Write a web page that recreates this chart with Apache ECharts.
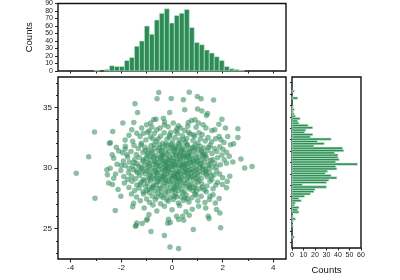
<!DOCTYPE html>
<html><head><meta charset="utf-8">
<script src="https://cdn.jsdelivr.net/npm/echarts@6/dist/echarts.min.js"></script>
<style>html,body{margin:0;padding:0;background:#fff}#c{width:400px;height:280px}</style>
</head><body><div id="c"></div>
<script>
// Top marginal histogram (x)
const xBinStart = -3.06, xBinWidth = 0.197;
const xCounts = [1,0,2,7,6,6,14,18,33,40,60,49,68,77,83,64,74,77,82,58,38,35,28,24,19,14,6,3,2,1];
// Right marginal histogram (y)
const yBinStart = 23.35, yBinWidth = 0.2;
const yCounts = [2,0,0,0,0,1,0,1,3,1,0,6,5,6,2,3,8,6,11,16,19,20,30,9,30,32,39,34,29,31,39,38,57,38,41,40,40,37,45,44,19,28,22,34,16,18,11,12,18,14,6,5,7,3,2,1,2,1,0,0,0,5,0,0,2];
// Tick values
const scatterXTicks = [-4,-2,0,2,4];
const scatterXMinor = [-3,-1,1,3];
const scatterYTicks = [25,30,35];
const scatterYMinor = [23,24,26,27,28,29,31,32,33,34,36,37];
const topHistXTicks = [-4,-3,-2,-1,0,1,2,3,4];
const rightHistYTicks = [23,24,25,26,27,28,29,30,31,32,33,34,35,36,37];
// Scatter points
const points = [
[-0.52,36.22],[0.68,36.25],[-0.59,35.7],[-0.03,35.73],[0.45,35.62],[1.0,35.9],[1.15,35.7],[1.64,35.6],[-1.46,35.3],
[0.5,34.8],[-0.09,34.57],[1.01,34.87],[1.18,34.7],[-1.36,34.57],[1.36,34.33],[1.4,34.5],[-0.72,34.0],[-0.63,34.02],[-0.34,34.1],[1.97,34.02],
[-0.29,33.8],[-1.51,33.75],[-1.94,33.7],[-1.0,33.56],[-0.84,33.7],[-0.47,33.29],[-0.6,33.15],[0.05,33.7],[0.25,33.48],[0.34,33.29],[0.64,33.75],[0.77,33.92],[0.91,33.97],[1.04,33.7],[1.23,33.56],[1.34,33.29],[2.6,33.23],[2.11,33.3],[1.69,33.15],[1.57,33.1],[-1.59,33.15],[-0.15,33.4],[0.5,33.1],[0.95,33.35],[-1.2,33.3],[-0.9,33.05],[0.15,33.05],[-0.3,33.55],[1.85,33.6],[0.62,33.45],
[-3.06,32.96],[-2.34,33.0],[-1.13,32.87],[-1.26,32.6],[-1.39,32.87],[2.6,32.52],[1.93,32.32],[1.86,32.6],[-2.47,32.05],[-2.43,32.08],[2.43,32.0],[-1.85,32.3],[-1.7,32.7],[-1.55,32.2],[-1.03,32.3],[-0.85,32.57],[-0.7,32.85],[-0.63,32.2],[-0.45,32.62],[-0.31,32.9],[-0.2,32.36],[-0.1,32.71],[0.02,32.15],[0.11,32.52],[0.22,32.86],[0.29,32.31],[0.41,32.66],[0.52,32.12],[0.58,32.44],[0.71,32.8],[0.83,32.26],[0.89,32.61],[1.02,32.07],[1.12,32.41],[1.19,32.76],[1.31,32.22],[1.42,32.51],[1.56,32.16],[1.72,32.42],[-1.21,32.05],[-0.96,32.95],[-0.36,32.05],[0.26,32.02],[0.66,32.95],[1.06,32.9],[-0.05,32.93],[-0.76,32.41],[2.2,32.6],[2.05,32.1],
[-2.36,31.09],[-2.1,31.4],[-1.85,31.56],[-1.84,31.8],[-1.78,31.1],[1.97,31.08],[2.01,31.55],[2.31,31.92],[-2.2,31.7],[-1.62,31.35],[-1.5,31.85],[-1.41,31.12],[-1.33,31.6],[-1.22,31.9],[-1.15,31.3],[-1.07,31.7],[-0.98,31.05],[-0.92,31.5],[-0.83,31.83],[-0.77,31.22],[-0.7,31.63],[-0.62,31.02],[-0.55,31.45],[-0.5,31.92],[-0.43,31.28],[-0.37,31.7],[-0.3,31.1],[-0.25,31.52],[-0.18,31.88],[-0.12,31.33],[-0.06,31.66],[0.02,31.08],[0.07,31.47],[0.13,31.8],[0.19,31.2],[0.24,31.58],[0.31,31.95],[0.36,31.36],[0.42,31.72],[0.48,31.06],[0.53,31.48],[0.6,31.85],[0.66,31.26],[0.72,31.62],[0.79,31.03],[0.85,31.42],[0.91,31.9],[0.97,31.18],[1.04,31.55],[1.11,31.8],[1.18,31.3],[1.26,31.65],[1.33,31.04],[1.41,31.45],[1.5,31.88],[1.58,31.2],[1.67,31.6],[1.77,31.35],[1.88,31.75],[2.15,31.3],[-1.95,31.25],[-0.05,31.95],[0.45,31.28],[0.15,31.62],[-0.4,31.05],[0.82,31.7],[-0.7,31.93],[1.2,31.1],[-1.05,31.45],[0.3,31.15],
[-3.29,30.93],[-2.17,30.3],[-1.92,30.57],[-1.68,30.5],[2.72,30.74],[2.26,30.96],[2.15,30.4],[2.06,30.67],[3.16,30.13],[-2.3,30.8],[-1.55,30.15],[-1.47,30.72],[-1.38,30.36],[-1.29,30.88],[-1.21,30.05],[-1.16,30.55],[-1.08,30.27],[-1.02,30.81],[-0.96,30.44],[-0.9,30.12],[-0.86,30.67],[-0.81,30.93],[-0.74,30.31],[-0.69,30.58],[-0.63,30.08],[-0.58,30.79],[-0.52,30.42],[-0.47,30.19],[-0.43,30.66],[-0.38,30.95],[-0.33,30.3],[-0.28,30.51],[-0.24,30.04],[-0.19,30.74],[-0.14,30.37],[-0.1,30.89],[-0.05,30.16],[-0.01,30.6],[0.04,30.33],[0.08,30.82],[0.12,30.1],[0.17,30.47],[0.21,30.7],[0.26,30.24],[0.3,30.96],[0.35,30.55],[0.39,30.07],[0.44,30.39],[0.49,30.84],[0.53,30.28],[0.58,30.62],[0.63,30.11],[0.67,30.9],[0.72,30.45],[0.77,30.2],[0.82,30.73],[0.87,30.36],[0.93,30.03],[0.98,30.58],[1.04,30.86],[1.1,30.3],[1.16,30.66],[1.22,30.14],[1.29,30.49],[1.36,30.8],[1.44,30.22],[1.52,30.6],[1.6,30.05],[1.69,30.42],[1.8,30.85],[1.91,30.26],[-1.75,30.9],[-2.0,30.2],[2.4,30.5],[-0.66,30.5],[0.15,30.25],[0.6,30.97],[-0.2,30.45],[0.95,30.8],[-1.12,30.69],[0.45,30.15],[1.25,30.95],[-0.45,30.85],[0.05,30.55],[1.5,30.35],[-0.9,30.35],[0.7,30.6],[-0.25,30.2],[0.32,30.75],[1.1,30.05],
[-3.78,29.56],[-2.57,29.86],[-2.44,29.97],[-2.55,29.45],[-2.23,29.5],[-2.02,29.8],[-1.71,29.6],[-1.75,29.05],[1.76,29.75],[2.87,30.0],[2.28,29.32],[-1.6,29.3],[-1.52,29.85],[-1.44,29.12],[-1.36,29.6],[-1.28,29.38],[-1.2,29.9],[-1.13,29.05],[-1.06,29.52],[-0.99,29.75],[-0.93,29.22],[-0.87,29.6],[-0.8,29.95],[-0.75,29.35],[-0.69,29.1],[-0.64,29.7],[-0.58,29.45],[-0.53,29.88],[-0.47,29.15],[-0.42,29.58],[-0.37,29.33],[-0.31,29.8],[-0.26,29.04],[-0.21,29.5],[-0.16,29.92],[-0.11,29.27],[-0.06,29.66],[-0.02,29.13],[0.03,29.83],[0.07,29.41],[0.12,29.6],[0.16,29.08],[0.21,29.74],[0.25,29.3],[0.3,29.95],[0.34,29.52],[0.39,29.2],[0.44,29.7],[0.48,29.38],[0.53,29.86],[0.58,29.1],[0.63,29.55],[0.68,29.78],[0.73,29.25],[0.78,29.64],[0.84,29.02],[0.9,29.46],[0.96,29.9],[1.02,29.33],[1.09,29.7],[1.16,29.15],[1.23,29.58],[1.31,29.85],[1.39,29.28],[1.48,29.65],[1.57,29.05],[1.66,29.42],[1.88,29.5],[2.0,29.2],[-1.9,29.3],[-0.4,29.95],[0.1,29.25],[0.55,29.62],[-0.85,29.42],[0.95,29.15],[-0.15,29.72],[0.35,29.05],[1.2,29.95],[-0.6,29.2],[0.75,29.9],[-1.0,29.95],[0.2,29.5],[1.35,29.48],[-0.3,29.4],[0.65,29.35],[-2.3,29.15],
[-2.5,28.77],[-2.35,28.63],[-2.13,28.22],[-1.88,28.77],[2.18,28.88],[2.15,28.38],[1.99,28.63],[1.8,28.82],[-1.7,28.4],[-1.58,28.9],[-1.47,28.15],[-1.39,28.6],[-1.3,28.35],[-1.22,28.82],[-1.14,28.05],[-1.05,28.5],[-0.97,28.7],[-0.9,28.25],[-0.83,28.95],[-0.76,28.45],[-0.69,28.1],[-0.62,28.64],[-0.55,28.3],[-0.49,28.86],[-0.42,28.02],[-0.36,28.52],[-0.3,28.75],[-0.24,28.2],[-0.18,28.6],[-0.12,28.92],[-0.06,28.38],[0.0,28.08],[0.06,28.7],[0.12,28.45],[0.18,28.88],[0.24,28.15],[0.3,28.55],[0.36,28.32],[0.42,28.78],[0.48,28.05],[0.55,28.48],[0.62,28.92],[0.69,28.27],[0.76,28.66],[0.84,28.12],[0.92,28.54],[1.0,28.84],[1.09,28.3],[1.18,28.7],[1.28,28.18],[1.38,28.52],[1.5,28.9],[1.62,28.28],[1.73,28.6],[-0.8,28.35],[0.2,28.62],[-0.25,28.95],[0.7,28.4],[-1.0,28.15],[1.2,28.42],[0.05,28.25],
[-3.04,27.5],[-2.02,27.67],[-1.52,27.1],[1.71,27.12],[1.86,27.48],[1.5,27.67],[1.48,27.4],[-1.4,27.6],[-1.25,27.3],[-1.12,27.85],[-1.0,27.45],[-0.88,27.15],[-0.78,27.7],[-0.66,27.38],[-0.55,27.9],[-0.45,27.05],[-0.35,27.55],[-0.25,27.82],[-0.15,27.25],[-0.05,27.62],[0.05,27.4],[0.15,27.88],[0.25,27.12],[0.35,27.6],[0.45,27.32],[0.56,27.78],[0.67,27.2],[0.78,27.55],[0.9,27.85],[1.02,27.3],[1.15,27.68],[1.3,27.15],[1.62,27.8],[-0.6,27.62],[0.1,27.7],[0.6,27.45],[-1.6,27.85],[-0.2,27.4],
[-2.24,26.5],[-1.55,26.8],[-0.91,26.16],[0.18,26.03],[0.42,26.03],[0.68,26.1],[1.43,26.03],[1.89,26.3],[1.76,26.58],[1.33,26.7],[-1.1,26.7],[-0.6,26.45],[-0.3,26.85],[0.0,26.55],[0.3,26.9],[0.8,26.6],[1.05,26.85],[-0.75,26.95],[0.55,26.4],
[-1.42,25.26],[-1.39,25.47],[-1.18,25.42],[-1.01,25.7],[-0.97,25.8],[-0.14,25.78],[-0.17,25.45],[-0.07,25.5],[0.46,25.7],[0.26,25.75],[1.46,25.84],[1.92,25.07],[-1.44,25.2],
[-0.83,24.77],[-0.30,24.44],[-0.08,23.48],[0.26,23.37],[0.84,24.93],
[-0.95,31.15],[-0.72,30.9],[-0.41,31.4],[-0.12,30.7],[0.16,31.05],[0.43,30.95],[0.71,31.35],[0.99,30.45],[1.28,31.15],[-1.31,30.15],[-0.58,30.25],[-0.27,29.85],[0.02,30.15],[0.27,29.65],[0.57,30.3],[0.86,29.75],[1.13,30.4],[1.42,29.95],[-1.18,29.7],[-0.89,29.1],[-0.6,29.6],[-0.33,29.25],[-0.04,28.85],[0.23,29.15],[0.51,28.7],[0.8,29.3],[1.06,28.95],[1.33,29.7],[-0.73,28.55],[-0.46,28.35],[-0.16,28.05],[0.13,28.3],[0.41,27.95],[0.69,28.55],[0.97,28.1],[-1.1,28.95],[-0.2,31.15],[0.09,31.35],[0.37,31.55],[0.64,31.05],[0.91,31.6],[-0.5,31.65],[-0.8,31.38],[1.16,31.42],[-0.35,30.6],[0.38,30.25],[0.81,30.55],[-0.15,30.05],[0.55,29.85],[-0.7,29.8],[0.05,29.35],[1.0,29.58],[-0.45,29.05],[0.3,28.95],[0.88,28.35],[-0.58,28.85],[0.17,27.6],[-0.42,27.7],[0.5,27.55],[-0.9,27.95],[0.95,27.75],[-1.4,29.75],[1.6,30.7],[-1.5,30.45],[1.55,29.35],[-1.25,28.65],[1.35,28.05],[-0.1,32.55],[0.45,32.35],[-0.55,32.4],[0.85,32.75],[0.2,33.25],[-0.8,33.35],[-1.7,29.95],[1.75,30.1],[-1.85,30.2],[0.0,31.75],[0.6,31.95],[-0.25,31.95],[1.45,31.7]
];

const FONT = 'Liberation Sans, Arial, sans-serif';
const GREEN = '#2e8b57';
const EDGE = 'rgba(200,240,210,0.85)';

const topData = xCounts.map((c, i) => [xBinStart + i * xBinWidth, xBinStart + (i + 1) * xBinWidth, c]);
const rightData = yCounts.map((c, i) => [yBinStart + i * yBinWidth, yBinStart + (i + 1) * yBinWidth, c]);

const frame = {show: true, borderColor: '#111', borderWidth: 1.4, backgroundColor: 'transparent'};
const lbl = (size, margin) => ({color: '#222', fontSize: size, fontFamily: FONT, margin: margin});
const noLine = {show: false, onZero: false};

const chart = echarts.init(document.getElementById('c'), null, {renderer: 'canvas'});
chart.setOption({
  animation: false,
  grid: [
    Object.assign({left: 58, top: 77, width: 228, height: 182}, frame),
    Object.assign({left: 58, top: 3, width: 228, height: 68}, frame),
    Object.assign({left: 292, top: 77, width: 69, height: 182}, frame)
  ],
  xAxis: [
    {gridIndex: 0, type: 'value', min: -4.5, max: 4.5, position: 'bottom',
     axisLine: noLine, splitLine: {show: false},
     axisTick: {show: true, length: 3.5, customValues: scatterXTicks, lineStyle: {color: '#222'}},
     axisLabel: Object.assign({customValues: scatterXTicks}, lbl(8, 5))},
    {gridIndex: 0, type: 'value', min: -4.5, max: 4.5, position: 'bottom',
     axisLine: noLine, splitLine: {show: false},
     axisTick: {show: true, length: 2, customValues: scatterXMinor, lineStyle: {color: '#222'}},
     axisLabel: {show: false}},
    {gridIndex: 1, type: 'value', min: -4.5, max: 4.5, position: 'bottom',
     axisLine: noLine, splitLine: {show: false},
     axisTick: {show: true, length: 2.5, customValues: topHistXTicks, lineStyle: {color: '#222'}},
     axisLabel: {show: false}},
    {gridIndex: 2, type: 'value', min: 0, max: 60, interval: 10, position: 'bottom',
     axisLine: noLine, splitLine: {show: false},
     axisTick: {show: true, length: 2.5, lineStyle: {color: '#222'}},
     axisLabel: lbl(7, 4),
     name: 'Counts', nameLocation: 'middle', nameGap: 17,
     nameTextStyle: {color: '#111', fontSize: 9.5, fontFamily: FONT}}
  ],
  yAxis: [
    {gridIndex: 0, type: 'value', min: 22.5, max: 37.5, position: 'left',
     axisLine: noLine, splitLine: {show: false},
     axisTick: {show: true, length: 3.5, customValues: scatterYTicks, lineStyle: {color: '#222'}},
     axisLabel: Object.assign({customValues: scatterYTicks}, lbl(8, 6))},
    {gridIndex: 0, type: 'value', min: 22.5, max: 37.5, position: 'left',
     axisLine: noLine, splitLine: {show: false},
     axisTick: {show: true, length: 2, customValues: scatterYMinor, lineStyle: {color: '#222'}},
     axisLabel: {show: false}},
    {gridIndex: 1, type: 'value', min: 0, max: 90, interval: 10, position: 'left',
     axisLine: noLine, splitLine: {show: false},
     axisTick: {show: true, length: 3, lineStyle: {color: '#222'}},
     axisLabel: lbl(7, 5),
     name: 'Counts', nameLocation: 'middle', nameGap: 14,
     nameTextStyle: {color: '#111', fontSize: 9.5, fontFamily: FONT}},
    {gridIndex: 2, type: 'value', min: 22.5, max: 37.5, position: 'left',
     axisLine: noLine, splitLine: {show: false},
     axisTick: {show: true, length: 2, customValues: rightHistYTicks, lineStyle: {color: '#222'}},
     axisLabel: {show: false}}
  ],
  series: [
    {type: 'scatter', xAxisIndex: 0, yAxisIndex: 0, data: points, symbolSize: 5.5,
     itemStyle: {color: GREEN, opacity: 0.55}, silent: true},
    {type: 'custom', xAxisIndex: 2, yAxisIndex: 2, data: topData,
     encode: {x: [0, 1], y: 2},
     renderItem: function (params, api) {
       const c = api.value(2);
       if (!c) return null;
       const p0 = api.coord([api.value(0), c]);
       const p1 = api.coord([api.value(1), 0]);
       return {type: 'rect', shape: {x: p0[0], y: p0[1], width: p1[0] - p0[0], height: p1[1] - p0[1]},
               style: {fill: GREEN, stroke: EDGE, lineWidth: 0.7}};
     }},
    {type: 'custom', xAxisIndex: 3, yAxisIndex: 3, data: rightData,
     encode: {y: [0, 1], x: 2},
     renderItem: function (params, api) {
       const c = api.value(2);
       if (!c) return null;
       const p0 = api.coord([0, api.value(1)]);
       const p1 = api.coord([c, api.value(0)]);
       return {type: 'rect', shape: {x: p0[0], y: p0[1], width: p1[0] - p0[0], height: p1[1] - p0[1]},
               style: {fill: GREEN, stroke: EDGE, lineWidth: 0.7}};
     }}
  ]
});
</script></body></html>
